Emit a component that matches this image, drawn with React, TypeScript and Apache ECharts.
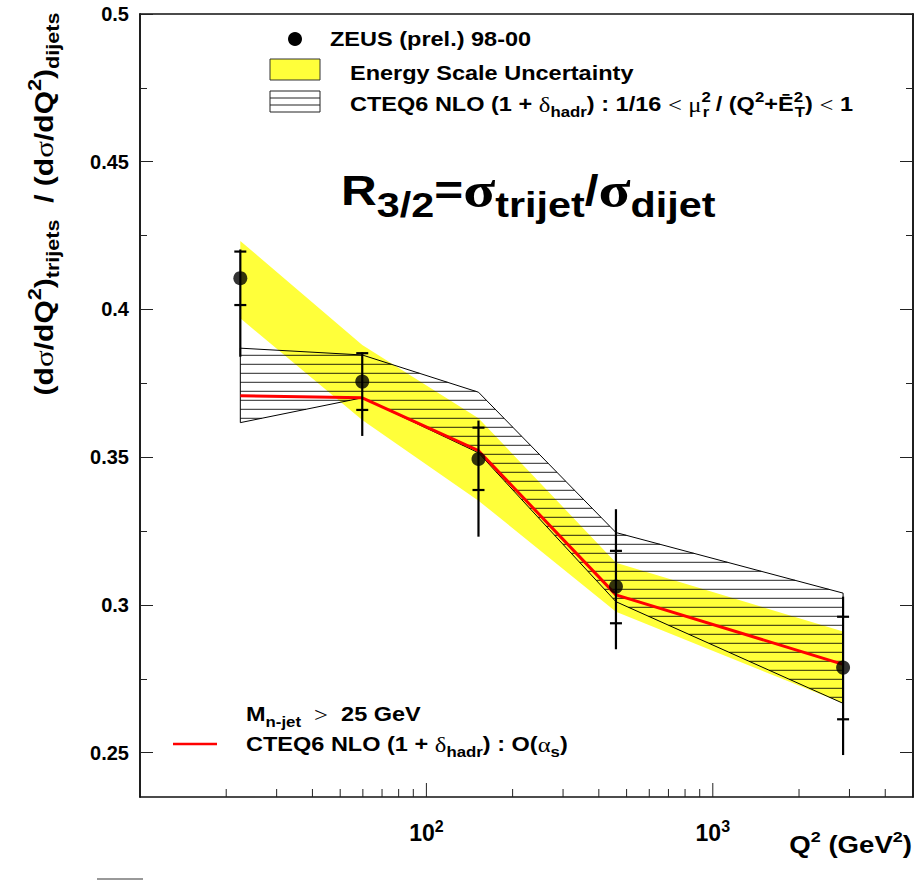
import React, { useEffect, useRef } from 'react';
import * as echarts from 'echarts';

// ---- data ----
const Q2 = [22.4, 59.7, 152, 459, 2850];
const RATIO = [0.4106, 0.3756, 0.3494, 0.3062, 0.2788];
const STAT_LOW = [0.4015, 0.366, 0.3389, 0.2938, 0.2613];
const STAT_HIGH = [0.4196, 0.3852, 0.36, 0.3183, 0.296];
const TOT_LOW = [0.384, 0.3572, 0.3231, 0.285, 0.2492];
const TOT_HIGH = [0.4203, 0.3855, 0.3624, 0.3324, 0.3028];
const ESCALE_LOW = [0.397, 0.3626, 0.3353, 0.2977, 0.2667];
const ESCALE_HIGH = [0.4232, 0.388, 0.3632, 0.3143, 0.291];
const NLO = [0.3708, 0.3701, 0.3522, 0.3034, 0.2799];
const NLO_LOW = [0.3617, 0.3701, 0.3515, 0.3011, 0.2667];
const NLO_HIGH = [0.3869, 0.3846, 0.372, 0.3245, 0.304];

const X_MIN = 10;
const X_MAX = 5000;
const Y_MIN = 0.235;
const Y_MAX = 0.5;
const Y_MAJOR = [0.25, 0.3, 0.35, 0.4, 0.45, 0.5];
const Y_MINOR = [0.275, 0.325, 0.375, 0.425, 0.475];
const X_MAJOR = [100, 1000];
const X_MINOR = [20, 30, 40, 50, 60, 70, 80, 90, 200, 300, 400, 500, 600, 700, 800, 900, 2000, 3000, 4000];

const SANS = "'Liberation Sans', Arial, Helvetica, sans-serif";
const SERIF = "'Liberation Serif', 'Times New Roman', serif";

function richSet(main: number, small: number, lh: number, greek: number) {
  return {
    m: { fontFamily: SANS, fontWeight: 'bold', fontSize: main, lineHeight: lh, color: '#000' },
    g: { fontFamily: SERIF, fontWeight: 'normal', fontSize: greek, lineHeight: lh, color: '#000' },
    sub: { fontFamily: SANS, fontWeight: 'bold', fontSize: small, lineHeight: small, verticalAlign: 'bottom', color: '#000' },
    sup: { fontFamily: SANS, fontWeight: 'bold', fontSize: small, lineHeight: small, verticalAlign: 'top', color: '#000' },
    sup0: { fontFamily: SANS, fontWeight: 'bold', fontSize: small, lineHeight: small, verticalAlign: 'top', width: 1, color: '#000' },
  };
}

function buildOption() {
  const axisLine = { show: true, lineStyle: { color: '#111', width: 1.5 } };
  const yBase = { type: 'value', min: Y_MIN, max: Y_MAX, splitLine: { show: false } };

  const bandSeries = {
    type: 'custom',
    coordinateSystem: 'cartesian2d',
    silent: true,
    z: 1,
    encode: { x: 0, y: 1 },
    data: Q2.map((q, i) => [q, ESCALE_LOW[i], ESCALE_HIGH[i]]),
    renderItem: (params: any, api: any) => {
      if (params.dataIndex !== 0) return null;
      const up = Q2.map((q, i) => api.coord([q, ESCALE_HIGH[i]]));
      const lo = Q2.map((q, i) => api.coord([q, ESCALE_LOW[i]])).reverse();
      return {
        type: 'polygon',
        shape: { points: up.concat(lo) },
        style: { fill: '#ffff3a', stroke: 'none' },
      };
    },
  };

  const hatchSeries = {
    type: 'custom',
    coordinateSystem: 'cartesian2d',
    silent: true,
    z: 2,
    encode: { x: 0, y: 1 },
    data: Q2.map((q, i) => [q, NLO_LOW[i], NLO_HIGH[i]]),
    renderItem: (params: any, api: any) => {
      if (params.dataIndex !== 0) return null;
      const up = Q2.map((q, i) => api.coord([q, NLO_HIGH[i]]));
      const lo = Q2.map((q, i) => api.coord([q, NLO_LOW[i]])).reverse();
      const poly = up.concat(lo);
      const ys = poly.map((p: number[]) => p[1]);
      const minY = Math.min(...ys);
      const maxY = Math.max(...ys);
      const top = params.coordSys.y;
      const step = 9;
      const off = 8.3;
      const y0 = top + off + Math.ceil((minY - top - off) / step) * step;
      const children: any[] = [];
      for (let y = y0; y <= maxY; y += step) {
        const xs: number[] = [];
        for (let k = 0; k < poly.length; k++) {
          const a = poly[k];
          const b = poly[(k + 1) % poly.length];
          if ((a[1] <= y && b[1] > y) || (b[1] <= y && a[1] > y)) {
            const t = (y - a[1]) / (b[1] - a[1]);
            xs.push(a[0] + t * (b[0] - a[0]));
          }
        }
        xs.sort((m, n) => m - n);
        for (let k = 0; k + 1 < xs.length; k += 2) {
          children.push({
            type: 'line',
            shape: { x1: xs[k], y1: y, x2: xs[k + 1], y2: y },
            style: { stroke: '#000', lineWidth: 1, opacity: 0.85 },
          });
        }
      }
      children.push({
        type: 'polygon',
        shape: { points: poly },
        style: { fill: 'none', stroke: '#000', lineWidth: 1 },
      });
      return { type: 'group', children };
    },
  };

  const nloSeries = {
    type: 'line',
    silent: true,
    z: 3,
    data: Q2.map((q, i) => [q, NLO[i]]),
    symbol: 'none',
    lineStyle: { color: '#ff0000', width: 3 },
  };

  const errSeries = {
    type: 'custom',
    coordinateSystem: 'cartesian2d',
    silent: true,
    z: 4,
    encode: { x: 0, y: [1, 2] },
    data: Q2.map((q, i) => [q, TOT_LOW[i], TOT_HIGH[i], STAT_LOW[i], STAT_HIGH[i]]),
    renderItem: (params: any, api: any) => {
      const x = api.value(0);
      const tLo = api.coord([x, api.value(1)]);
      const tHi = api.coord([x, api.value(2)]);
      const sLo = api.coord([x, api.value(3)]);
      const sHi = api.coord([x, api.value(4)]);
      const hw = 6;
      const st = { stroke: '#000', lineWidth: 2.2 };
      return {
        type: 'group',
        children: [
          { type: 'line', shape: { x1: tLo[0], y1: tLo[1], x2: tHi[0], y2: tHi[1] }, style: st },
          { type: 'line', shape: { x1: sLo[0] - hw, y1: sLo[1], x2: sLo[0] + hw, y2: sLo[1] }, style: st },
          { type: 'line', shape: { x1: sHi[0] - hw, y1: sHi[1], x2: sHi[0] + hw, y2: sHi[1] }, style: st },
        ],
      };
    },
  };

  const pointSeries = {
    type: 'scatter',
    silent: true,
    z: 5,
    data: Q2.map((q, i) => [q, RATIO[i]]),
    symbol: 'circle',
    symbolSize: 14,
    itemStyle: { color: '#000' },
  };

  const xTickSeries = (vals: number[], len: number) => ({
    type: 'custom',
    coordinateSystem: 'cartesian2d',
    silent: true,
    z: 6,
    encode: { x: 0, y: 1 },
    data: vals.map((v) => [v, Y_MIN]),
    renderItem: (params: any, api: any) => {
      const p = api.coord([api.value(0), api.value(1)]);
      return {
        type: 'line',
        shape: { x1: p[0], y1: p[1], x2: p[0], y2: p[1] - len },
        style: { stroke: '#222', lineWidth: 1 },
      };
    },
  });

  const legendRich = richSet(21, 15, 30, 22);
  const titleRich = {
    m: { fontFamily: SANS, fontWeight: 'bold', fontSize: 42, lineHeight: 64, color: '#000' },
    g: { fontFamily: SERIF, fontWeight: 'bold', fontSize: 50, lineHeight: 64, color: '#000' },
    sub: { fontFamily: SANS, fontWeight: 'bold', fontSize: 35, lineHeight: 35, verticalAlign: 'bottom', color: '#000' },
  };
  const yTitleRich = richSet(25, 18, 36, 26);
  const xTitleRich = richSet(23, 15, 30, 23);

  return {
    animation: false,
    backgroundColor: '#fff',
    grid: { left: 140, top: 14, right: 8, bottom: 84 },
    xAxis: [
      {
        type: 'log',
        logBase: 10,
        min: X_MIN,
        max: X_MAX,
        position: 'bottom',
        axisLine,
        axisTick: { show: false },
        splitLine: { show: false },
        minorTick: { show: false },
        axisLabel: {
          margin: 21,
          formatter: (v: number) => {
            if (Math.abs(v - 100) < 1e-6) return '{m|10}{sup|2}';
            if (Math.abs(v - 1000) < 1e-6) return '{m|10}{sup|3}';
            return '';
          },
          rich: {
            m: { fontFamily: SANS, fontWeight: 'bold', fontSize: 23, lineHeight: 30, color: '#000' },
            sup: { fontFamily: SANS, fontWeight: 'bold', fontSize: 16, lineHeight: 16, verticalAlign: 'top', color: '#000' },
          },
        },
      },
      {
        type: 'log',
        logBase: 10,
        min: X_MIN,
        max: X_MAX,
        position: 'top',
        axisLine,
        axisTick: { show: false },
        axisLabel: { show: false },
        splitLine: { show: false },
      },
    ],
    yAxis: [
      {
        ...yBase,
        position: 'left',
        axisLine,
        axisTick: { show: true, inside: true, length: 13, customValues: Y_MAJOR, lineStyle: { color: '#222', width: 1 } },
        axisLabel: {
          customValues: Y_MAJOR,
          margin: 11,
          formatter: (v: number) => String(+v.toFixed(3)),
          fontFamily: SANS,
          fontWeight: 'bold',
          fontSize: 20,
          color: '#000',
        },
      },
      {
        ...yBase,
        position: 'left',
        axisLine,
        axisTick: { show: true, inside: true, length: 7, customValues: Y_MINOR, lineStyle: { color: '#222', width: 1 } },
        axisLabel: { show: false },
      },
      {
        ...yBase,
        position: 'right',
        axisLine,
        axisTick: { show: true, inside: true, length: 13, customValues: Y_MAJOR, lineStyle: { color: '#222', width: 1 } },
        axisLabel: { show: false },
      },
      {
        ...yBase,
        position: 'right',
        axisLine,
        axisTick: { show: true, inside: true, length: 7, customValues: Y_MINOR, lineStyle: { color: '#222', width: 1 } },
        axisLabel: { show: false },
      },
    ],
    series: [bandSeries, hatchSeries, nloSeries, errSeries, pointSeries, xTickSeries(X_MAJOR, 14), xTickSeries(X_MINOR, 8)],
    graphic: [
      // top legend
      { type: 'circle', shape: { cx: 295, cy: 39, r: 7 }, style: { fill: '#000' }, z: 10 },
      { type: 'rect', shape: { x: 270, y: 59, width: 50, height: 21 }, style: { fill: '#ffff3a', stroke: '#333', lineWidth: 1 }, z: 10 },
      { type: 'rect', shape: { x: 270, y: 91, width: 50, height: 21 }, style: { fill: '#fff', stroke: '#222', lineWidth: 1 }, z: 10 },
      { type: 'line', shape: { x1: 270, y1: 98, x2: 320, y2: 98 }, style: { stroke: '#222', lineWidth: 1 }, z: 10 },
      { type: 'line', shape: { x1: 270, y1: 105, x2: 320, y2: 105 }, style: { stroke: '#222', lineWidth: 1 }, z: 10 },
      {
        type: 'text', x: 330, y: 24, scaleX: 1.12, z: 10,
        style: { text: '{m|ZEUS (prel.) 98-00}', rich: legendRich, align: 'left', verticalAlign: 'top' },
      },
      {
        type: 'text', x: 350, y: 57.5, scaleX: 1.12, z: 10,
        style: { text: '{m|Energy Scale Uncertainty}', rich: legendRich, align: 'left', verticalAlign: 'top' },
      },
      {
        type: 'text', x: 350, y: 89, scaleX: 1.12, z: 10,
        style: {
          text: '{m|CTEQ6 NLO (1 + }{g|δ}{sub|hadr}{m|) : 1/16 }{g|<}{m| }{g|μ}{sup0|2}{sub|r}{m| / (Q}{sup|2}{m|+Ē}{sup0|2}{sub|T}{m|) }{g|<}{m| 1}',
          rich: legendRich, align: 'left', verticalAlign: 'top',
        },
      },
      // big title
      {
        type: 'text', x: 341, y: 158, scaleX: 1.18, z: 10,
        style: {
          text: '{m|R}{sub|3/2}{m|=}{g|σ}{sub|trijet}{m|/}{g|σ}{sub|dijet}',
          rich: titleRich, align: 'left', verticalAlign: 'top',
        },
      },
      // bottom legend
      {
        type: 'text', x: 246, y: 699, scaleX: 1.12, z: 10,
        style: { text: '{m|M}{sub|n-jet}{m|  }{g|>}{m|  25 GeV}', rich: legendRich, align: 'left', verticalAlign: 'top' },
      },
      { type: 'line', shape: { x1: 173, y1: 744, x2: 217, y2: 744 }, style: { stroke: '#ff0000', lineWidth: 2.5 }, z: 10 },
      {
        type: 'text', x: 246, y: 729, scaleX: 1.12, z: 10,
        style: {
          text: '{m|CTEQ6 NLO (1 + }{g|δ}{sub|hadr}{m|) : O(}{g|α}{sub|s}{m|)}',
          rich: legendRich, align: 'left', verticalAlign: 'top',
        },
      },
      // y axis title
      {
        type: 'text', x: 44, y: 204, rotation: Math.PI / 2, scaleX: 1.2, z: 10,
        style: {
          text: '{m|(d}{g|σ}{m|/dQ}{sup|2}{m|)}{sub|trijets}{m|  / (d}{g|σ}{m|/dQ}{sup|2}{m|)}{sub|dijets}',
          rich: yTitleRich, align: 'center', verticalAlign: 'middle',
        },
      },
      // x axis title
      {
        type: 'text', x: 912, y: 830, scaleX: 1.2, z: 10,
        style: { text: '{m|Q}{sup|2}{m| (GeV}{sup|2}{m|)}', rich: xTitleRich, align: 'right', verticalAlign: 'top' },
      },
      { type: 'line', shape: { x1: 97, y1: 879, x2: 143, y2: 879 }, style: { stroke: '#999', lineWidth: 2 }, z: 10 },
    ],
  };
}

export default function App() {
  const ref = useRef<HTMLDivElement>(null);
  useEffect(() => {
    document.body.style.margin = '0';
    const chart = echarts.init(ref.current as HTMLDivElement, null, { renderer: 'svg' });
    chart.setOption(buildOption() as any);
    return () => chart.dispose();
  }, []);
  return <div ref={ref} style={{ width: 921, height: 881 }} />;
}
